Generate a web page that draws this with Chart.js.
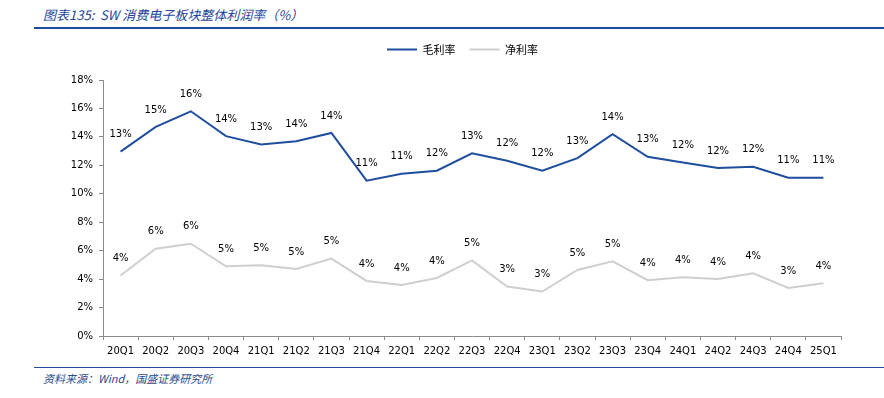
<!DOCTYPE html>
<html>
<head>
<meta charset="utf-8">
<script src="https://cdn.jsdelivr.net/npm/chart.js@4.4.1/dist/chart.umd.min.js"></script>
<style>
  html, body { margin: 0; padding: 0; background: #fff; }
  body { width: 884px; height: 398px; position: relative; overflow: hidden; }
  #title { position: absolute; left: 43px; top: 5px; font-family: "Noto Sans CJK SC", sans-serif; font-style: italic; font-size: 13px; color: #24449A; white-space: nowrap; }
  #topline { position: absolute; left: 34px; right: 0; top: 27px; height: 2px; background: #1F4E9E; }
  #botline { position: absolute; left: 34px; right: 0; top: 367px; height: 1px; background: #1F4E9E; }
  #source { position: absolute; left: 43px; top: 370px; font-family: "Noto Sans CJK SC", sans-serif; font-style: italic; font-size: 11px; color: #2A4A8F; white-space: nowrap; }
  #wrap { position: absolute; left: 0; top: 0; width: 884px; height: 364px; }
</style>
</head>
<body>
<div id="title">图表135:&nbsp; SW 消费电子板块整体利润率（%）</div>
<div id="topline"></div>
<div id="wrap"><canvas id="c"></canvas></div>
<div id="botline"></div>
<div id="source">资料来源：Wind，国盛证券研究所</div>
<script>
const categories = ["20Q1","20Q2","20Q3","20Q4","21Q1","21Q2","21Q3","21Q4","22Q1","22Q2","22Q3","22Q4","23Q1","23Q2","23Q3","23Q4","24Q1","24Q2","24Q3","24Q4","25Q1"];
const grossMargin = [12.96,14.70,15.80,14.05,13.47,13.70,14.28,10.92,11.41,11.62,12.84,12.32,11.62,12.51,14.19,12.60,12.20,11.81,11.90,11.13,11.13];
const netMargin = [4.25,6.14,6.49,4.90,4.97,4.71,5.44,3.87,3.59,4.08,5.32,3.48,3.13,4.64,5.25,3.92,4.13,4.01,4.41,3.38,3.71];
const seriesNames = ["毛利率","净利率"];
const yTicks = [0,2,4,6,8,10,12,14,16,18];

const GROSS_COLOR = "#1F4E9E";
const NET_COLOR = "#CFCFCF";
const AXIS_COLOR = "#8A8A8A";
const TICK_FONT = { family: "'DejaVu Sans', sans-serif", size: 10 };

const labelPlugin = {
  id: "pointLabels",
  afterDatasetsDraw(chart) {
    const ctx = chart.ctx;
    ctx.save();
    ctx.font = "10px 'DejaVu Sans', sans-serif";
    ctx.fillStyle = "#000";
    ctx.textAlign = "center";
    ctx.textBaseline = "middle";
    chart.data.datasets.forEach((ds, i) => {
      const meta = chart.getDatasetMeta(i);
      meta.data.forEach((pt, j) => {
        ctx.fillText(Math.round(ds.data[j]) + "%", pt.x, pt.y - 17);
      });
    });
    ctx.restore();
  }
};

const legendShift = {
  id: "legendShift",
  afterLayout(chart) {
    if (chart.legend) { chart.legend.left += 42; chart.legend.right += 42; }
  }
};

new Chart(document.getElementById("c"), {
  type: "line",
  data: {
    labels: categories,
    datasets: [
      { label: seriesNames[0], data: grossMargin, borderColor: GROSS_COLOR, backgroundColor: GROSS_COLOR, borderWidth: 2, pointRadius: 0, tension: 0, fill: false },
      { label: seriesNames[1], data: netMargin, borderColor: NET_COLOR, backgroundColor: NET_COLOR, borderWidth: 2, pointRadius: 0, tension: 0, fill: false }
    ]
  },
  options: {
    responsive: true,
    maintainAspectRatio: false,
    animation: false,
    layout: { padding: { top: 30, right: 43, left: 0, bottom: 0 } },
    plugins: {
      tooltip: { enabled: false },
      title: { display: true, text: "", weight: 500, font: { size: 1, lineHeight: 1 }, padding: { top: 0, bottom: 14 } },
      legend: {
        display: true,
        position: "top",
        labels: {
          boxWidth: 30,
          boxHeight: 2,
          padding: 14,
          color: "#000",
          font: { family: "'Noto Sans CJK SC', sans-serif", size: 11 },
          generateLabels(chart) {
            const items = Chart.defaults.plugins.legend.labels.generateLabels(chart);
            items.forEach(it => { it.lineWidth = 0; it.fillStyle = it.strokeStyle; });
            return items;
          }
        }
      }
    },
    scales: {
      x: {
        type: "category",
        offset: true,
        afterFit(scale) { scale.height = 28; },
        grid: { display: true, drawOnChartArea: false, drawTicks: true, tickLength: 4, color: AXIS_COLOR, offset: true },
        border: { display: true, color: AXIS_COLOR, width: 1 },
        ticks: { color: "#000", font: TICK_FONT, padding: 5, maxRotation: 0, autoSkip: false }
      },
      y: {
        min: 0,
        max: 18,
        afterFit(scale) { scale.width = 103; },
        afterBuildTicks(scale) { scale.ticks = yTicks.map(v => ({ value: v })); },
        grid: { display: true, drawOnChartArea: false, drawTicks: true, tickLength: 4, color: AXIS_COLOR },
        border: { display: true, color: AXIS_COLOR, width: 1 },
        ticks: { color: "#000", font: TICK_FONT, padding: 6, callback: v => v + "%" }
      }
    }
  },
  plugins: [labelPlugin, legendShift]
});
</script>
</body>
</html>
